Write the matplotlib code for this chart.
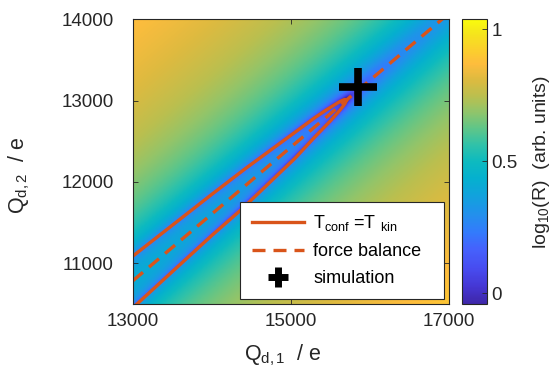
import numpy as np
import matplotlib.pyplot as plt
from matplotlib.colors import LinearSegmentedColormap
from matplotlib.lines import Line2D

plt.rcParams['font.family'] = ['Liberation Sans', 'DejaVu Sans']
plt.rcParams['mathtext.fontset'] = 'custom'
plt.rcParams['mathtext.rm'] = 'Liberation Sans'
plt.rcParams['mathtext.it'] = 'Liberation Sans'
plt.rcParams['mathtext.default'] = 'rm'

# axis ranges (charges in units of e)
q1_lim = [13000, 17000]
q2_lim = [10500, 14000]
q1_ticks = [13000, 15000, 17000]
q2_ticks = [11000, 12000, 13000, 14000]

# force balance line
fb_q1 = [13000, 17000]
fb_q2 = [10787, 14073]

# T_conf = T_kin contour, upper and lower branch meeting at the tip
upper_q1 = [13000, 13500, 14000, 14430, 15070, 15300, 15450, 15620, 15680, 15705]
upper_q2 = [11090, 11470, 11850, 12170, 12625, 12790, 12888, 12990, 13015, 13008]
lower_q1 = [13000, 13500, 14000, 14370, 15050, 15300, 15500, 15620, 15680, 15705]
lower_q2 = [10455, 10900, 11345, 11660, 12290, 12552, 12752, 12884, 12958, 13008]

# simulation result
sim_q1 = 15850
sim_q2 = 13165

# colour scale of log10(R)
c_lim = [-0.04, 1.037]
c_ticks = [0, 0.5, 1]
log_offset = -0.74
log_gain = 0.23
floor_frac = 0.1

ORANGE = (0.85, 0.33, 0.10)
GREY = (0.15, 0.15, 0.15)

# parula-like colormap
parula_pos = [0.0, 0.06, 0.125, 0.19, 0.25, 0.31, 0.375, 0.44, 0.5, 0.56,
              0.62, 0.68, 0.73, 0.79, 0.845, 0.89, 0.95, 1.0]
parula_rgb = [(0.2422, 0.1504, 0.6603), (0.270, 0.215, 0.830), (0.281, 0.300, 0.940),
              (0.272, 0.380, 0.988), (0.200, 0.480, 0.990), (0.140, 0.560, 0.930),
              (0.070, 0.630, 0.870), (0.020, 0.690, 0.810), (0.050, 0.730, 0.750),
              (0.190, 0.760, 0.660), (0.380, 0.775, 0.530), (0.580, 0.770, 0.410),
              (0.730, 0.750, 0.310), (0.870, 0.730, 0.250), (0.995, 0.740, 0.240),
              (0.988, 0.807, 0.179), (0.959, 0.895, 0.113), (0.9763, 0.9831, 0.0538)]
parula = LinearSegmentedColormap.from_list('parula', list(zip(parula_pos, parula_rgb)))


def residual_map(n1=400, n2=350):
    q1 = np.linspace(q1_lim[0], q1_lim[1], n1)
    q2 = np.linspace(q2_lim[0], q2_lim[1], n2)
    Q1, Q2 = np.meshgrid(q1, q2)
    slope = (fb_q2[1] - fb_q2[0]) / (fb_q1[1] - fb_q1[0])
    d = Q2 - (fb_q2[0] + slope * (Q1 - fb_q1[0]))
    tip = upper_q1[-1]
    k = (upper_q2[0] - fb_q2[0]) ** 2 / (tip - upper_q1[0])
    r = d ** 2 - k * (tip - Q1)
    # finite grid resolution keeps R away from zero on the contour
    r_min = floor_frac * k * np.abs(tip - Q1)
    return log_offset + log_gain * np.log10(np.abs(r) + r_min + 1.0)


fig = plt.figure(figsize=(5.52, 3.75), dpi=100)
ax = fig.add_axes([133 / 552, 71 / 375, 316 / 552, 284.7 / 375])
cax = fig.add_axes([462 / 552, 71 / 375, 25 / 552, 284.7 / 375])

img = ax.imshow(residual_map(), origin='lower', aspect='auto', cmap=parula,
                extent=[q1_lim[0], q1_lim[1], q2_lim[0], q2_lim[1]],
                vmin=c_lim[0], vmax=c_lim[1], interpolation='bilinear')

ax.plot(upper_q1, upper_q2, color=ORANGE, lw=2.4)
ax.plot(lower_q1, lower_q2, color=ORANGE, lw=2.4)
ax.plot(fb_q1, fb_q2, color=ORANGE, lw=2.4, dashes=(3.9, 2.4))
ax.plot(sim_q1, sim_q2, marker='+', color='k', ms=27, mew=5.5, ls='none')

ax.set_xlim(q1_lim)
ax.set_ylim(q2_lim)
ax.set_xticks(q1_ticks)
ax.set_yticks(q2_ticks)
ax.tick_params(direction='in', length=3.5, width=0.6, color=GREY, labelcolor=GREY,
               labelsize=13.5, top=True, right=True)
ax.tick_params(axis='x', pad=6.5)
ax.tick_params(axis='y', pad=14)
for sp in ax.spines.values():
    sp.set_color(GREY)
    sp.set_linewidth(0.8)

xl = ax.set_xlabel(r'Q$_{\mathrm{d,1}}$  / e', fontsize=15.5, color=GREY)
xl.set_va('center')
ax.xaxis.set_label_coords(0.475, -0.179)
yl = ax.set_ylabel(r'Q$_{\mathrm{d,2}}$  / e', fontsize=15.5, color=GREY)
yl.set_va('center')
ax.yaxis.set_label_coords(-0.36, 0.453)

handles = [Line2D([], [], color=ORANGE, lw=2.4),
           Line2D([], [], color=ORANGE, lw=2.4, dashes=(3.9, 2.4)),
           Line2D([], [], color='k', marker='+', ms=15, mew=5, ls='none')]
labels = [r'T$_{\mathrm{conf}}$ =T $_{\mathrm{kin}}$', 'force balance', 'simulation']
leg = ax.legend(handles, labels, loc='lower left', bbox_to_anchor=(0.339, 0.0175, 0.645, 0.33),
                mode='expand', fontsize=13, handlelength=2.9, handletextpad=0.5,
                labelspacing=0.55, borderaxespad=0, borderpad=0.65, fancybox=False,
                framealpha=1, edgecolor=GREY)
leg.get_frame().set_linewidth(0.8)

cb = fig.colorbar(img, cax=cax, ticks=c_ticks)
cb.ax.set_yticklabels(['0', '0.5', '1'])
cb.ax.tick_params(direction='in', length=3.5, width=0.6, color=GREY, labelcolor=GREY,
                  labelsize=13.5, pad=3)
cb.outline.set_edgecolor(GREY)
cb.outline.set_linewidth(0.8)
cb.set_label(r'log$_{10}$(R)  (arb. units)', fontsize=14, color=GREY, labelpad=10)

fig.savefig('out.png', dpi=100)
